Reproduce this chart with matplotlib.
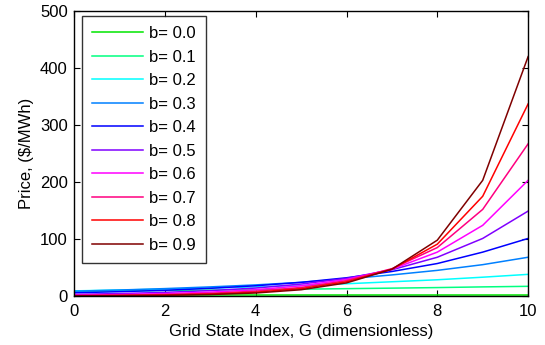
import matplotlib
matplotlib.use('Agg')
import matplotlib.pyplot as plt

plt.rcParams['font.family'] = ['Liberation Sans', 'DejaVu Sans']

# Datos
grid_state = [0, 1, 2, 3, 4, 5, 6, 7, 8, 9, 10]
b_values = [0.0, 0.1, 0.2, 0.3, 0.4, 0.5, 0.6, 0.7, 0.8, 0.9]

price_b00 = [1.5, 1.5, 1.5, 1.5, 1.5, 1.5, 1.5, 1.5, 1.5, 1.5, 1.5]
price_b01 = [8.4, 9.0, 9.7, 10.4, 11.2, 12.0, 12.9, 13.8, 14.8, 16.0, 17.0]
price_b02 = [9.0, 10.5, 12.0, 14.0, 16.0, 18.5, 21.5, 25.0, 28.5, 33.0, 38.0]
price_b03 = [8.5, 10.5, 13.0, 16.0, 19.5, 24.0, 30.0, 37.0, 45.0, 55.0, 68.0]
price_b04 = [5.7, 7.6, 10.0, 13.5, 18.0, 24.0, 32.0, 43.0, 57.0, 77.0, 101.0]
price_b05 = [2.9, 4.3, 6.4, 9.5, 14.0, 21.0, 31.0, 46.0, 68.0, 101.0, 149.0]
price_b06 = [1.6, 2.6, 4.2, 6.8, 11.0, 18.0, 29.0, 47.0, 77.0, 124.0, 203.0]
price_b07 = [0.9, 1.5, 2.7, 4.8, 8.5, 15.0, 27.0, 48.0, 85.0, 152.0, 267.0]
price_b08 = [0.5, 1.0, 1.8, 3.5, 6.7, 13.0, 25.0, 47.0, 91.0, 175.0, 337.0]
price_b09 = [0.3, 0.6, 1.2, 2.6, 5.3, 11.0, 23.0, 47.0, 98.0, 203.0, 420.0]

series = [price_b00, price_b01, price_b02, price_b03, price_b04,
          price_b05, price_b06, price_b07, price_b08, price_b09]
colores = ['#00e600', '#00ff80', '#00ffff', '#0080ff', '#0000ff',
           '#8000ff', '#ff00ff', '#ff0080', '#ff0000', '#800000']

fig = plt.figure(figsize=(5.45, 3.45), dpi=100)
ax = fig.add_axes([0.136, 0.142, 0.833, 0.826])

for b, precios, color in zip(b_values, series, colores):
    ax.plot(grid_state, precios, color=color, linewidth=1.1, label=f'b= {b:.1f}')

ax.set_xlim(0, 10)
ax.set_ylim(0, 500)
ax.set_xticks([0, 2, 4, 6, 8, 10])
ax.set_yticks([0, 100, 200, 300, 400, 500])

# Estilo tipo MATLAB: ticks hacia adentro en los cuatro lados
ax.tick_params(direction='in', top=True, right=True, length=4, width=0.8,
               labelsize=12)
ax.tick_params(axis='x', pad=6)
ax.tick_params(axis='y', pad=4.5)
for spine in ax.spines.values():
    spine.set_linewidth(1.0)

ax.set_xlabel('Grid State Index, G (dimensionless)', fontsize=12, labelpad=3)
ax.set_ylabel('Price, ($/MWh)', fontsize=12, labelpad=4)

leg = ax.legend(loc='upper left', bbox_to_anchor=(0.018, 0.982), borderaxespad=0,
                fontsize=12, frameon=True, fancybox=False, handlelength=3.06,
                labelspacing=0.51, borderpad=0.6, handletextpad=0.36)
leg.get_frame().set_edgecolor('black')
leg.get_frame().set_linewidth(1.0)

plt.savefig('out.png', dpi=100)
